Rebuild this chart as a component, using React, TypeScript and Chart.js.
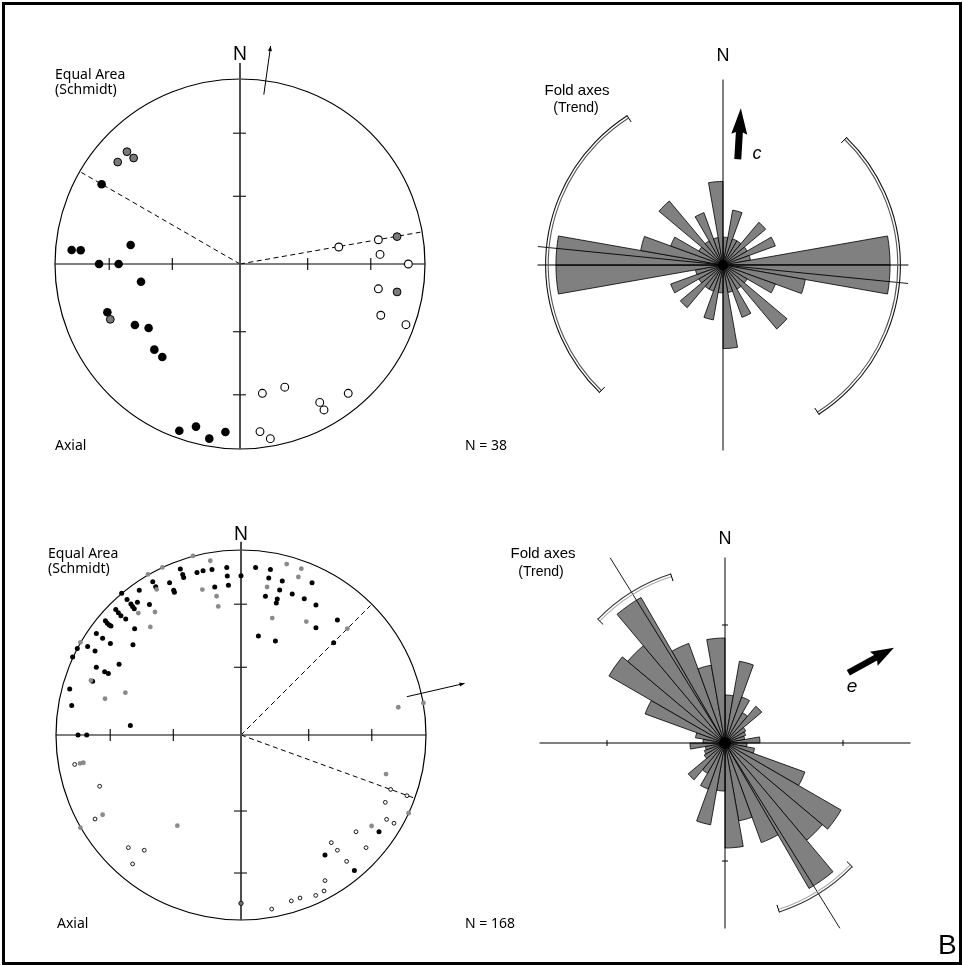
import React, { useEffect, useRef } from "react";
import { Chart, registerables } from "chart.js";

Chart.register(...registerables);

const D2R = Math.PI / 180;

// ---------------- Top stereonet (Axial, N = 38) ----------------
// positions in % of the net radius: x = east, y = north
const netAFilled: number[][] = [
  [-74.8, 43.1], [-91.0, 7.6], [-86.1, 7.4], [-59.1, 10.3], [-76.2, 0], [-65.6, 0],
  [-53.5, -9.6], [-71.7, -26.1], [-56.8, -33.0], [-49.4, -34.6], [-46.3, -46.3], [-42.0, -50.3],
  [-32.8, -90.1], [-23.8, -87.9], [-16.6, -94.4], [-7.9, -90.8],
];
const netAGray: number[][] = [
  [-66.1, 55.1], [-61.1, 60.7], [-57.5, 57.3], [-70.1, -29.9], [84.9, 14.8], [84.9, -15.1],
];
const netAOpen: number[][] = [
  [53.4, 9.2], [74.8, 13.1], [75.7, 5.2], [91.0, 0], [74.8, -13.4], [76.1, -27.7], [89.7, -32.8],
  [12.1, -69.9], [24.2, -66.6], [43.1, -74.8], [45.4, -78.9], [58.5, -69.9], [10.8, -90.6], [16.4, -94.4],
];
const netADashAz = [300, 80];
const netAArrowAz = 8;
const netATicksX = [-70.7, -36.6, 36.6, 70.7];
const netATicksY = [70.7, 36.6, -36.6, -70.7];

// ---------------- Bottom stereonet (Axial, N = 168) ----------------
const netBFilled: number[][] = [
  [0, 86.1], [-7.7, 90.6], [-7.4, 85.9], [-6.8, 80.9], [-15.7, 89.5], [-20.5, 88.8], [-23.8, 87.9],
  [-14.2, 80.0], [-32.8, 89.7], [-31.5, 86.8], [-31.0, 85.2], [-38.6, 82.3], [-36.4, 78.2], [-36.0, 77.1],
  [-47.7, 82.9], [-46.1, 80.2], [-55.0, 78.2], [-49.5, 70.6], [-64.5, 76.6], [-61.6, 73.3], [-59.5, 70.8],
  [-58.6, 69.5], [-57.7, 68.3], [-56.0, 71.7], [-62.3, 62.7], [-57.5, 57.5], [-67.7, 67.9], [-66.3, 66.1],
  [-64.9, 64.5], [-73.3, 61.8], [-72.3, 60.4], [-71.2, 59.5], [-70.3, 58.9], [-78.2, 54.8], [-74.8, 52.3],
  [-70.6, 49.5], [-82.9, 47.9], [-78.9, 45.4], [-88.5, 46.8], [-91.0, 42.2], [-58.4, 48.8], [-65.9, 38.2],
  [-78.2, 36.6], [-73.7, 34.2], [-71.7, 33.3], [-80.2, 29.0], [-92.6, 24.9], [-91.5, 16.0], [-59.8, 5.2],
  [-88.1, 0], [-83.4, 0],
  [7.9, 90.6], [15.9, 89.5], [15.0, 84.9], [22.3, 83.2], [20.9, 78.4], [13.2, 75.0], [19.6, 73.5],
  [19.1, 71.4], [27.7, 76.2], [38.4, 82.3], [34.2, 73.7], [40.5, 70.3], [52.1, 62.2], [40.5, 58.0],
  [9.4, 53.5], [18.6, 50.8], [50.1, 49.9],
  [74.6, -52.3], [45.4, -64.9], [61.3, -73.2],
];
const netBGray: number[][] = [
  [-25.9, 96.8], [-16.6, 94.2], [-42.5, 90.6], [-50.3, 86.8], [-45.6, 78.7], [-20.9, 78.6], [-13.2, 75.0],
  [-12.3, 69.5], [-55.5, 65.9], [-46.5, 66.5], [-49.0, 58.4], [-86.8, 50.1], [-81.1, 29.5], [-62.5, 22.9],
  [-73.5, 19.6],
  [24.7, 92.4], [32.6, 89.9], [31.0, 85.4], [14.1, 80.0], [16.9, 63.2], [35.3, 61.3], [57.5, 57.5],
  [85.0, 15.0], [98.6, 17.3],
  [-87.0, -15.3], [-85.2, -15.0], [-74.8, -43.1], [-86.8, -50.1], [-34.4, -49.0], [78.4, -21.1],
  [90.6, -42.3], [70.6, -49.2],
];
const netBGrayRim: number[][] = [[0, -91.0]];
const netBOpen: number[][] = [
  [-89.9, -15.9], [-76.4, -27.7], [-78.9, -45.4], [-60.9, -60.9], [-52.3, -62.3], [-58.6, -69.7],
  [80.9, -29.4], [89.7, -32.8], [78.0, -36.4], [78.7, -45.6], [82.7, -47.7], [62.2, -52.3], [48.8, -58.2],
  [52.1, -62.3], [67.6, -60.9], [57.1, -68.3], [45.4, -78.7], [44.9, -84.3], [40.4, -86.7], [31.9, -88.1],
  [27.2, -89.7], [16.6, -94.1],
];
const netBDashAz = [45, 110];
const netBArrowAz = 77;
const netBTicksX = [-70.7, -36.6, 36.6, 70.7];
const netBTicksY = [70.7, 36.6, -41.1, -74.6];

// ---------------- Rose diagrams (10° bins, 0–180°, bidirectional trends) ----------------
const roseACounts = [1, 2, 1, 1, 2, 1, 2, 1, 6, 6, 3, 2, 1, 3, 1, 2, 1, 3];
const roseAMeanAz = 95.7;
const roseAArcs: number[][] = [[44.1, 147.3], [224.1, 327.3]];

const roseBLength = [48, 83, 49, 35, 48, 24, 22, 20, 35, 22, 30, 85, 134, 127, 168, 106, 79, 105];
const roseBMeanAz = 328.2;
const roseBArcs: number[][] = [[134.2, 162.2], [314.2, 342.2]];
const roseBTicks = [118];

const binLabels = Array.from({ length: 36 }, (_, i) => `${i * 10}–${i * 10 + 10}°`);

// ---------------- helpers ----------------
type NetDecor = {
  axisTop: number; ticksX: number[]; ticksY: number[]; dashAz: number[];
  arrowAz: number; arrowFrom: number; arrowTo: number;
};

function netPlugin(d: NetDecor) {
  return {
    id: "netDecor",
    beforeDatasetsDraw(chart: any) {
      const ctx = chart.ctx as CanvasRenderingContext2D;
      const xs = chart.scales.x, ys = chart.scales.y;
      const X = (v: number) => xs.getPixelForValue(v);
      const Y = (v: number) => ys.getPixelForValue(v);
      const cx = X(0), cy = Y(0), R = X(100) - X(0);
      ctx.save();
      ctx.strokeStyle = "#000";
      ctx.lineWidth = 1.2;
      ctx.beginPath(); ctx.arc(cx, cy, R, 0, Math.PI * 2); ctx.stroke();
      ctx.lineWidth = 1.1;
      ctx.beginPath(); ctx.moveTo(X(-100), cy); ctx.lineTo(X(100), cy); ctx.stroke();
      d.ticksX.forEach((t) => {
        ctx.beginPath(); ctx.moveTo(X(t), cy - 6); ctx.lineTo(X(t), cy + 6); ctx.stroke();
      });
      ctx.setLineDash([5, 3.5]);
      ctx.lineWidth = 1;
      d.dashAz.forEach((az) => {
        ctx.beginPath(); ctx.moveTo(cx, cy);
        ctx.lineTo(X(99 * Math.sin(az * D2R)), Y(99 * Math.cos(az * D2R)));
        ctx.stroke();
      });
      ctx.setLineDash([]);
      ctx.strokeStyle = "#4d4d4d"; ctx.lineWidth = 2;
      ctx.beginPath(); ctx.moveTo(cx, Y(d.axisTop)); ctx.lineTo(cx, Y(-100)); ctx.stroke();
      ctx.strokeStyle = "#222"; ctx.lineWidth = 1.2;
      d.ticksY.forEach((t) => {
        ctx.beginPath(); ctx.moveTo(cx - 7, Y(t)); ctx.lineTo(cx + 6, Y(t)); ctx.stroke();
      });
      const s = Math.sin(d.arrowAz * D2R), c = Math.cos(d.arrowAz * D2R);
      const x0 = X(d.arrowFrom * s), y0 = Y(d.arrowFrom * c);
      const x1 = X(d.arrowTo * s), y1 = Y(d.arrowTo * c);
      ctx.strokeStyle = "#000"; ctx.fillStyle = "#000"; ctx.lineWidth = 1;
      ctx.beginPath(); ctx.moveTo(x0, y0); ctx.lineTo(x1, y1); ctx.stroke();
      const L = Math.hypot(x1 - x0, y1 - y0), dx = (x1 - x0) / L, dy = (y1 - y0) / L;
      ctx.beginPath(); ctx.moveTo(x1, y1);
      ctx.lineTo(x1 - dx * 5 - dy * 2, y1 - dy * 5 + dx * 2);
      ctx.lineTo(x1 - dx * 5 + dy * 2, y1 - dy * 5 - dx * 2);
      ctx.closePath(); ctx.fill();
      ctx.restore();
    },
  };
}

function pts(a: number[][]) {
  return a.map(([x, y]) => ({ x, y }));
}

function netConfig(
  sets: { data: number[][]; r: number; fill: string; stroke: string; bw: number }[],
  padding: any,
  decor: NetDecor,
): any {
  return {
    type: "scatter",
    data: {
      datasets: sets.map((s) => ({
        data: pts(s.data),
        pointRadius: s.r,
        pointBackgroundColor: s.fill,
        pointBorderColor: s.stroke,
        pointBorderWidth: s.bw,
        backgroundColor: s.fill,
        borderColor: s.stroke,
        clip: false,
      })),
    },
    options: {
      responsive: false,
      animation: false,
      events: [],
      layout: { padding },
      scales: {
        x: { type: "linear", min: -100, max: 100, display: false },
        y: { type: "linear", min: -100, max: 100, display: false },
      },
      plugins: { legend: { display: false }, tooltip: { enabled: false } },
    },
    plugins: [netPlugin(decor)],
  };
}

type RoseDecor = {
  axisLen: number; ticks: number[]; meanAz: number; meanLen: number;
  arcs: number[][]; arcR: number; arcOuter: string; arcInner: string;
  tail: number[]; tip: number[]; headLen: number; headHalf: number; shaftHalf: number; blob: number;
};

function rosePlugin(d: RoseDecor) {
  return {
    id: "roseDecor",
    afterDatasetsDraw(chart: any) {
      const s = chart.scales.r;
      const ctx = chart.ctx as CanvasRenderingContext2D;
      const cx = s.xCenter, cy = s.yCenter;
      const k = s.getDistanceFromCenterForValue(1) - s.getDistanceFromCenterForValue(0);
      const P = (az: number, r: number) => [cx + r * k * Math.sin(az * D2R), cy - r * k * Math.cos(az * D2R)];
      const line = (a: number[], b: number[]) => {
        ctx.beginPath(); ctx.moveTo(a[0], a[1]); ctx.lineTo(b[0], b[1]); ctx.stroke();
      };
      ctx.save();
      ctx.fillStyle = "#000";
      ctx.beginPath(); ctx.arc(cx, cy, d.blob, 0, Math.PI * 2); ctx.fill();
      ctx.strokeStyle = "#000"; ctx.lineWidth = 1;
      line(P(0, d.axisLen), P(180, d.axisLen));
      line(P(90, d.axisLen), P(270, d.axisLen));
      d.ticks.forEach((t) => {
        [0, 180].forEach((az) => { const p = P(az, t); line([p[0] - 3, p[1]], [p[0] + 3, p[1]]); });
        [90, 270].forEach((az) => { const p = P(az, t); line([p[0], p[1] - 3], [p[0], p[1] + 3]); });
      });
      ctx.lineWidth = 0.9;
      line(P(d.meanAz, d.meanLen), P(d.meanAz + 180, d.meanLen));
      const R = d.arcR * k;
      d.arcs.forEach(([a1, a2]) => {
        ctx.lineWidth = 1.1;
        ctx.strokeStyle = d.arcOuter;
        ctx.beginPath(); ctx.arc(cx, cy, R + 1.4, (a1 - 90) * D2R, (a2 - 90) * D2R); ctx.stroke();
        ctx.strokeStyle = d.arcInner;
        ctx.beginPath(); ctx.arc(cx, cy, R - 1.2, (a1 - 90) * D2R, (a2 - 90) * D2R); ctx.stroke();
        ctx.strokeStyle = "#000"; ctx.lineWidth = 1;
        [a1, a2].forEach((a) => line(P(a, (R + 2) / k), P(a, (R - 6) / k)));
      });
      // thick arrow
      const tx = cx + d.tail[0] * k, ty = cy - d.tail[1] * k;
      const px = cx + d.tip[0] * k, py = cy - d.tip[1] * k;
      const L = Math.hypot(px - tx, py - ty), ux = (px - tx) / L, uy = (py - ty) / L;
      const nx = -uy, ny = ux;
      const bx = px - ux * d.headLen, by = py - uy * d.headLen;
      ctx.fillStyle = "#000";
      ctx.beginPath();
      ctx.moveTo(tx + nx * d.shaftHalf, ty + ny * d.shaftHalf);
      ctx.lineTo(bx + nx * d.shaftHalf, by + ny * d.shaftHalf);
      ctx.lineTo(bx - ux * 2 + nx * d.headHalf, by - uy * 2 + ny * d.headHalf);
      ctx.lineTo(px, py);
      ctx.lineTo(bx - ux * 2 - nx * d.headHalf, by - uy * 2 - ny * d.headHalf);
      ctx.lineTo(bx - nx * d.shaftHalf, by - ny * d.shaftHalf);
      ctx.lineTo(tx - nx * d.shaftHalf, ty - ny * d.shaftHalf);
      ctx.closePath(); ctx.fill();
      ctx.restore();
    },
  };
}

function roseConfig(values: number[], max: number, padding: any, decor: RoseDecor): any {
  return {
    type: "polarArea",
    data: {
      labels: binLabels,
      datasets: [{ data: values, backgroundColor: "#808080", borderColor: "#000", borderWidth: 0.8 }],
    },
    options: {
      responsive: false,
      animation: false,
      events: [],
      layout: { padding },
      scales: {
        r: {
          min: 0, max, startAngle: 0,
          ticks: { display: false }, grid: { display: false },
          angleLines: { display: false }, pointLabels: { display: false },
        },
      },
      plugins: { legend: { display: false }, tooltip: { enabled: false } },
    },
    plugins: [rosePlugin(decor)],
  };
}

const SANS = "'Noto Sans', 'Open Sans', sans-serif";
const HELV = "'Liberation Sans', Arial, sans-serif";

function Txt(p: { x: number; y: number; size: number; family: string; align?: string; italic?: boolean; children: any }) {
  const tx = p.align === "center" ? "-50%" : p.align === "right" ? "-100%" : "0";
  return (
    <div
      style={{
        position: "absolute", left: p.x, top: p.y, transform: `translate(${tx}, -50%)`,
        fontFamily: p.family, fontSize: p.size, fontStyle: p.italic ? "italic" : "normal",
        lineHeight: 1, whiteSpace: "nowrap", color: "#000",
      }}
    >
      {p.children}
    </div>
  );
}

export default function App() {
  const c1 = useRef<HTMLCanvasElement>(null);
  const c2 = useRef<HTMLCanvasElement>(null);
  const c3 = useRef<HTMLCanvasElement>(null);
  const c4 = useRef<HTMLCanvasElement>(null);

  useEffect(() => {
    const charts: Chart[] = [];
    charts.push(new Chart(c1.current!, netConfig(
      [
        { data: netAGray, r: 3.9, fill: "#7a7a7a", stroke: "#000", bw: 1 },
        { data: netAFilled, r: 4.3, fill: "#000", stroke: "#000", bw: 0 },
        { data: netAOpen, r: 3.9, fill: "#fff", stroke: "#000", bw: 1.1 },
      ],
      { left: 15, top: 49, right: 55, bottom: 21 },
      { axisTop: 108.6, ticksX: netATicksX, ticksY: netATicksY, dashAz: netADashAz, arrowAz: netAArrowAz, arrowFrom: 92.5, arrowTo: 119 },
    )));
    charts.push(new Chart(c2.current!, netConfig(
      [
        { data: netBGrayRim, r: 2.2, fill: "#777", stroke: "#000", bw: 0.8 },
        { data: netBGray, r: 2.4, fill: "#8a8a8a", stroke: "#8a8a8a", bw: 0 },
        { data: netBFilled, r: 2.5, fill: "#000", stroke: "#000", bw: 0 },
        { data: netBOpen, r: 1.9, fill: "#fff", stroke: "#000", bw: 0.9 },
      ],
      { left: 16, top: 50, right: 54, bottom: 20 },
      { axisTop: 104.5, ticksX: netBTicksX, ticksY: netBTicksY, dashAz: netBDashAz, arrowAz: netBArrowAz, arrowFrom: 92, arrowTo: 124 },
    )));
    charts.push(new Chart(c3.current!, roseConfig(
      [...roseACounts, ...roseACounts], 6.5,
      { left: 22, top: 24, right: 26, bottom: 24 },
      {
        axisLen: 6.66, ticks: [], meanAz: roseAMeanAz, meanLen: 6.68, arcs: roseAArcs, arcR: 6.32,
        arcOuter: "#111", arcInner: "#555", tail: [0.53, 3.8], tip: [0.64, 5.63],
        headLen: 24, headHalf: 8, shaftHalf: 3.5, blob: 5,
      },
    )));
    charts.push(new Chart(c4.current!, roseConfig(
      [...roseBLength, ...roseBLength], 190,
      { left: 35, top: 33, right: 25, bottom: 27 },
      {
        axisLen: 185.5, ticks: roseBTicks, meanAz: roseBMeanAz, meanLen: 218, arcs: roseBArcs, arcR: 176,
        arcOuter: "#333", arcInner: "#aaa", tail: [123.3, 70.3], tip: [169, 95.3],
        headLen: 21, headHalf: 8, shaftHalf: 3.2, blob: 6,
      },
    )));
    return () => charts.forEach((c) => c.destroy());
  }, []);

  return (
    <div style={{ position: "absolute", left: 0, top: 0, width: 963, height: 965, background: "#fff", overflow: "hidden" }}>
      <div style={{ position: "absolute", left: 2, top: 2, width: 960, height: 963, boxSizing: "border-box", border: "3px solid #000" }} />
      <canvas ref={c1} width={440} height={440} style={{ position: "absolute", left: 40, top: 30 }} />
      <canvas ref={c2} width={440} height={440} style={{ position: "absolute", left: 40, top: 500 }} />
      <canvas ref={c3} width={410} height={410} style={{ position: "absolute", left: 520, top: 60 }} />
      <canvas ref={c4} width={440} height={440} style={{ position: "absolute", left: 500, top: 520 }} />

      <Txt x={240} y={53} size={19} family={SANS} align="center">N</Txt>
      <Txt x={55} y={74} size={14} family={SANS}>Equal Area</Txt>
      <Txt x={55} y={89} size={14} family={SANS}>(Schmidt)</Txt>
      <Txt x={55} y={445} size={14} family={SANS}>Axial</Txt>
      <Txt x={465} y={445} size={14} family={SANS}>N = 38</Txt>

      <Txt x={241} y={533} size={19} family={SANS} align="center">N</Txt>
      <Txt x={48} y={553} size={14} family={SANS}>Equal Area</Txt>
      <Txt x={48} y={568} size={14} family={SANS}>(Schmidt)</Txt>
      <Txt x={57} y={923} size={14} family={SANS}>Axial</Txt>
      <Txt x={465} y={923} size={14} family={SANS}>N = 168</Txt>

      <Txt x={723} y={55} size={18} family={HELV} align="center">N</Txt>
      <Txt x={577} y={89} size={15} family={HELV} align="center">Fold axes</Txt>
      <Txt x={576} y={107} size={14} family={HELV} align="center">(Trend)</Txt>
      <Txt x={757} y={153} size={18} family={HELV} align="center" italic>c</Txt>

      <Txt x={725} y={538} size={18} family={HELV} align="center">N</Txt>
      <Txt x={543} y={552} size={15} family={HELV} align="center">Fold axes</Txt>
      <Txt x={541} y={571} size={14} family={HELV} align="center">(Trend)</Txt>
      <Txt x={852} y={685} size={19} family={HELV} align="center" italic>e</Txt>

      <Txt x={938} y={945} size={28} family={HELV}>B</Txt>
    </div>
  );
}
